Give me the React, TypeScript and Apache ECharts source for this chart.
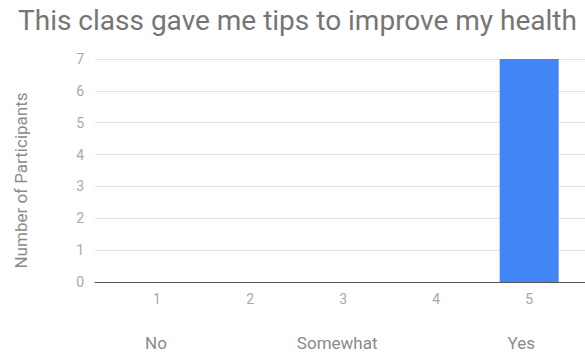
import React, { useEffect, useRef } from "react";
import * as echarts from "echarts";

// Survey responses on a 1–5 scale
const ratings = [1, 2, 3, 4, 5];
const participants = [0, 0, 0, 0, 7];
const scaleWords = ["No", "Somewhat", "Yes"];
const yTicks = [0, 1, 2, 3, 4, 5, 6, 7];

const TITLE = "This class gave me tips to improve my health";
const Y_NAME = "Number of Participants";

export default function App() {
  const ref = useRef<HTMLDivElement>(null);

  useEffect(() => {
    document.body.style.margin = "0";
    if (!ref.current) return;
    const chart = echarts.init(ref.current, undefined, { renderer: "svg" });

    const scaleName = scaleWords.map((w) => `{t|${w}}`).join("{s| }");

    chart.setOption({
      animation: false,
      backgroundColor: "#ffffff",
      textStyle: { fontFamily: "Roboto" },
      title: {
        text: TITLE,
        left: 13,
        top: 1,
        textStyle: {
          fontFamily: "Roboto",
          fontSize: 28,
          fontWeight: "normal",
          color: "#757575",
        },
      },
      grid: { left: 95, right: 0, top: 59, bottom: 73 },
      xAxis: {
        type: "value",
        min: 1 / 3,
        max: 5.6,
        name: scaleName,
        nameLocation: "middle",
        nameGap: 52,
        nameTextStyle: {
          rich: {
            t: { fontFamily: "Roboto", fontSize: 17, color: "#8a8a8a" },
            s: { width: 130, fontSize: 17 },
          },
        },
        axisLine: { show: true, lineStyle: { color: "#555555", width: 1 } },
        axisTick: { show: false },
        splitLine: { show: false },
        axisLabel: {
          customValues: ratings,
          margin: 10,
          fontSize: 14,
          color: "#a8a8a8",
          fontFamily: "Roboto",
        },
      },
      yAxis: {
        type: "value",
        min: yTicks[0],
        max: yTicks[yTicks.length - 1],
        interval: 1,
        name: Y_NAME,
        nameLocation: "middle",
        nameGap: 66,
        nameTextStyle: {
          fontFamily: "Roboto",
          fontSize: 17,
          color: "#8a8a8a",
          padding: [0, 20, 0, 0],
        },
        axisLine: { show: false },
        axisTick: { show: false },
        axisLabel: {
          margin: 11,
          fontSize: 14,
          color: "#a8a8a8",
          fontFamily: "Roboto",
        },
        splitLine: { lineStyle: { color: "#e3e3e3", width: 1 } },
      },
      series: [
        {
          type: "bar",
          data: ratings.map((r, i) => [r, participants[i]]),
          barWidth: 59,
          itemStyle: { color: "#4285f4" },
        },
      ],
    });

    return () => chart.dispose();
  }, []);

  return <div ref={ref} style={{ width: 585, height: 356 }} />;
}
